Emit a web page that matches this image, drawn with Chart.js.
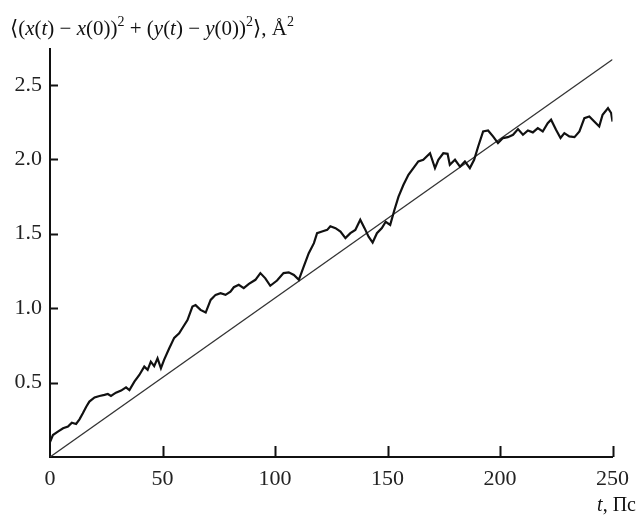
<!DOCTYPE html>
<html>
<head>
<meta charset="utf-8">
<script src="https://cdn.jsdelivr.net/npm/chart.js@4/dist/chart.umd.min.js"></script>
<style>
  html, body { margin: 0; padding: 0; background: #fff; }
  #wrap { width: 638px; height: 516px; }
</style>
</head>
<body>
<div id="wrap"><canvas id="msdChart" width="638" height="516"></canvas></div>
<script>
// time, ps
const timePs = [0, 1.3, 3.5, 5.8, 8, 9.7, 11.6, 13.1, 14.6, 16.1, 17.5, 19.8, 22, 24.2, 25.7,
  27.1, 29.3, 31.6, 33.8, 35.3, 37.5, 39.7, 41.9, 43.4, 44.8, 46.3, 47.8, 49.3, 50.7, 53,
  55.2, 57.4, 58.8, 61.1, 63.3, 64.7, 66.9, 69.2, 71.4, 73.6, 75.8, 78, 80.2, 81.7, 83.9,
  86.1, 88.4, 91.3, 93.5, 95.7, 97.9, 100.9, 103.8, 106.1, 108.4, 110.6, 112.8, 115, 117.3,
  118.7, 120.9, 123.2, 124.6, 126.9, 129.1, 131.3, 133.5, 135.7, 137.9, 139.8, 141.6, 143.4,
  145.3, 147.5, 149.2, 151.2, 153.1, 154.9, 157.1, 159.3, 161.5, 163.7, 165.9, 168.9, 171.1,
  172.6, 174.8, 176.7, 177.7, 180, 182.2, 184.4, 186.6, 188.5, 190.3, 192.5, 194.7, 196.9,
  199.1, 201.3, 203.5, 205.8, 208, 210.2, 212.4, 214.6, 216.8, 219, 221.2, 222.7, 224.9,
  226.9, 228.6, 230.8, 233.1, 235.3, 237.5, 239.7, 241.9, 244.1, 245.6, 248, 249.4, 250];
// mean square displacement, A^2
const msdValues = [0.10, 0.148, 0.17, 0.193, 0.204, 0.23, 0.222, 0.253, 0.294, 0.338, 0.372, 0.40, 0.41, 0.417, 0.423,
  0.41, 0.432, 0.446, 0.468, 0.45, 0.506, 0.551, 0.607, 0.585, 0.64, 0.61, 0.663, 0.596, 0.652, 0.73,
  0.80, 0.83, 0.865, 0.92, 1.01, 1.02, 0.988, 0.97, 1.055, 1.089, 1.10, 1.089, 1.11, 1.14, 1.156,
  1.134, 1.163, 1.19, 1.235, 1.20, 1.15, 1.185, 1.235, 1.24, 1.223, 1.19, 1.28, 1.369, 1.436,
  1.503, 1.514, 1.525, 1.55, 1.537, 1.514, 1.47, 1.503, 1.525, 1.593, 1.537, 1.48, 1.44,
  1.503, 1.537, 1.58, 1.559, 1.66, 1.749, 1.828, 1.895, 1.94, 1.985, 1.996, 2.04, 1.94,
  1.996, 2.04, 2.036, 1.962, 1.996, 1.95, 1.985, 1.94, 1.996, 2.085, 2.186, 2.193, 2.153,
  2.108, 2.142, 2.148, 2.164, 2.202, 2.164, 2.193, 2.18, 2.209, 2.186, 2.242, 2.265, 2.197,
  2.142, 2.175, 2.153, 2.148, 2.186, 2.276, 2.287, 2.253, 2.22, 2.298, 2.343, 2.31, 2.253];
// straight line
const fitTime = [0, 250];
const fitValues = [0, 2.67];

const xTicks = [0, 50, 100, 150, 200, 250];
const yTicks = [0.5, 1.0, 1.5, 2.0, 2.5];

const serif = '"Liberation Serif", "DejaVu Serif", serif';

// label pieces: [text, italic, superscript]
const yTitle = [['\u27E8(', 0, 0], ['x', 1, 0], ['(', 0, 0], ['t', 1, 0], [') \u2212 ', 0, 0], ['x', 1, 0],
  ['(0))', 0, 0], ['2', 0, 1], [' + (', 0, 0], ['y', 1, 0], ['(', 0, 0], ['t', 1, 0], [') \u2212 ', 0, 0],
  ['y', 1, 0], ['(0))', 0, 0], ['2', 0, 1], ['\u27E9, \u00C5', 0, 0], ['2', 0, 1]];
const xTitle = [['t', 1, 0], [', \u041F\u0441', 0, 0]];

function drawPieces(ctx, pieces, x, y, size, alignRight) {
  const fontOf = p => (p[1] ? 'italic ' : '') + (p[2] ? Math.round(size * 0.65) : size) + 'px ' + serif;
  let total = 0;
  pieces.forEach(p => { ctx.font = fontOf(p); total += ctx.measureText(p[0]).width; });
  let cx = alignRight ? x - total : x;
  ctx.textBaseline = 'alphabetic';
  ctx.textAlign = 'left';
  pieces.forEach(p => {
    ctx.font = fontOf(p);
    ctx.fillText(p[0], cx, p[2] ? y - size * 0.42 : y);
    cx += ctx.measureText(p[0]).width;
  });
}

const labelsAndTicks = {
  id: 'labelsAndTicks',
  afterDraw(chart) {
    const ctx = chart.ctx;
    const xs = chart.scales.x, ys = chart.scales.y;
    const area = chart.chartArea;
    ctx.save();
    ctx.strokeStyle = '#111';
    ctx.lineWidth = 2;
    ctx.beginPath();
    xTicks.forEach(v => {
      if (v === 0) return;
      const px = Math.round(xs.getPixelForValue(v)) + 0.5;
      ctx.moveTo(px, area.bottom);
      ctx.lineTo(px, area.bottom - 11);
    });
    yTicks.forEach(v => {
      const py = Math.round(ys.getPixelForValue(v)) + 0.5;
      ctx.moveTo(area.left, py);
      ctx.lineTo(area.left + 8, py);
    });
    ctx.stroke();
    ctx.fillStyle = '#111';
    drawPieces(ctx, yTitle, 10, 35, 21, false);
    drawPieces(ctx, xTitle, 636, 511, 20, true);
    ctx.restore();
  }
};

new Chart(document.getElementById('msdChart'), {
  type: 'line',
  data: {
    datasets: [{
      data: timePs.map((t, i) => ({ x: t, y: msdValues[i] })),
      borderColor: '#111',
      borderWidth: 2.2,
      pointRadius: 0,
      tension: 0
    }, {
      data: fitTime.map((t, i) => ({ x: t, y: fitValues[i] })),
      borderColor: '#333',
      borderWidth: 1.3,
      pointRadius: 0,
      tension: 0
    }]
  },
  options: {
    responsive: false,
    animation: false,
    layout: { padding: { top: 49, right: 23, left: 0, bottom: 0 } },
    plugins: { legend: { display: false }, tooltip: { enabled: false } },
    scales: {
      x: {
        type: 'linear', min: 0, max: 250,
        afterBuildTicks: s => { s.ticks = xTicks.map(v => ({ value: v })); },
        afterFit: s => { s.height = 59; },
        grid: { display: false, drawTicks: false },
        border: { display: true, color: '#111', width: 2 },
        ticks: { color: '#222', padding: 9, maxRotation: 0, font: { family: serif, size: 22 } }
      },
      y: {
        type: 'linear', min: 0, max: 2.74,
        afterBuildTicks: s => { s.ticks = yTicks.map(v => ({ value: v })); },
        afterFit: s => { s.width = 50; },
        grid: { display: false, drawTicks: false },
        border: { display: true, color: '#111', width: 2 },
        ticks: { color: '#222', padding: 8, font: { family: serif, size: 22 },
          callback: v => v.toFixed(1) }
      }
    }
  },
  plugins: [labelsAndTicks]
});
</script>
</body>
</html>
